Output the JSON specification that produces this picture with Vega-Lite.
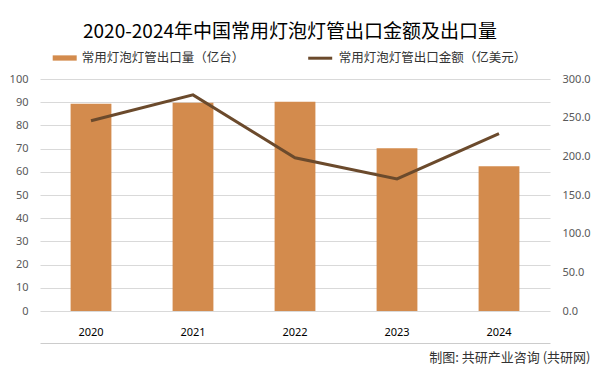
{
  "$schema": "https://vega.github.io/schema/vega-lite/v6.json",
  "width": 510,
  "height": 232,
  "autosize": {"type": "none"},
  "padding": {"left": 40, "top": 79, "right": 50, "bottom": 62},
  "background": "white",
  "config": {
    "font": "Noto Sans CJK SC",
    "view": {"stroke": null},
    "axis": {"labelFont": "Noto Sans", "labelFontSize": 11, "labelColor": "#595959", "ticks": false, "grid": false},
    "axisX": {"domain": true, "domainColor": "#cccccc", "domainWidth": 1}
  },
  "title": {
    "text": "2020-2024年中国常用灯泡灯管出口金额及出口量",
    "fontSize": 19,
    "fontWeight": "normal",
    "color": "#000000",
    "font": "Noto Sans CJK SC",
    "anchor": "middle",
    "offset": 6,
    "dx": -5,
    "dy": 3
  },
  "data": {
    "values": [
      {"year": "2020", "qty": 89.3, "amt": 246.0, "s1": "常用灯泡灯管出口量（亿台）", "s2": "常用灯泡灯管出口金额（亿美元）"},
      {"year": "2021", "qty": 89.8, "amt": 279.5, "s1": "常用灯泡灯管出口量（亿台）", "s2": "常用灯泡灯管出口金额（亿美元）"},
      {"year": "2022", "qty": 90.2, "amt": 198.2, "s1": "常用灯泡灯管出口量（亿台）", "s2": "常用灯泡灯管出口金额（亿美元）"},
      {"year": "2023", "qty": 70.1, "amt": 170.8, "s1": "常用灯泡灯管出口量（亿台）", "s2": "常用灯泡灯管出口金额（亿美元）"},
      {"year": "2024", "qty": 62.4, "amt": 229.5, "s1": "常用灯泡灯管出口量（亿台）", "s2": "常用灯泡灯管出口金额（亿美元）"}
    ]
  },
  "encoding": {
    "x": {
      "field": "year", "type": "nominal",
      "scale": {"paddingInner": 0.6, "paddingOuter": 0.3},
      "axis": {
        "labelAngle": 0, "labelColor": "#000000", "labelPadding": -17, "labelFontSize": 11,
        "offset": 32, "domain": true, "domainColor": "#cccccc", "domainWidth": 1,
        "title": "制图: 共研产业咨询 (共研网)",
        "titleFont": "Noto Sans CJK SC", "titleFontSize": 13, "titleFontWeight": "normal", "titleColor": "#333333",
        "titleAnchor": "end", "titleAlign": "right", "titleBaseline": "middle", "titleX": 550, "titleY": 14
      }
    }
  },
  "layer": [
    {
      "mark": {"type": "bar", "color": "#D38B4D"},
      "encoding": {
        "y": {
          "field": "qty", "type": "quantitative",
          "scale": {"domain": [0, 100], "nice": false},
          "axis": {"title": null, "domain": false, "values": [0,10,20,30,40,50,60,70,80,90,100], "labelOverlap": false, "grid": true, "gridColor": "#d9d9d9", "labelPadding": 12}
        },
        "fill": {
          "field": "s1", "type": "nominal",
          "scale": {"range": ["#D38B4D"]},
          "legend": {"orient": "none", "legendX": 12.7, "legendY": -33, "title": null, "symbolType": "M-1,-0.22H1V0.22H-1Z", "symbolSize": 576, "labelOffset": 5, "labelFontSize": 12.5, "labelLimit": 300, "labelFont": "Noto Sans CJK SC", "labelColor": "#333333", "symbolStrokeWidth": 0}
        }
      }
    },
    {
      "mark": {"type": "line", "strokeWidth": 3},
      "encoding": {
        "y": {
          "field": "amt", "type": "quantitative",
          "scale": {"domain": [0, 300], "nice": false},
          "axis": {"title": null, "domain": false, "orient": "right", "values": [0,50,100,150,200,250,300], "labelOverlap": false, "format": ".1f", "labelPadding": 12}
        },
        "stroke": {
          "field": "s2", "type": "nominal",
          "scale": {"range": ["#6B4A2C"]},
          "legend": {"orient": "none", "legendX": 266.7, "legendY": -34.3, "title": null, "symbolType": "stroke", "symbolSize": 576, "symbolStrokeWidth": 3, "labelOffset": 5, "labelFontSize": 12.5, "labelLimit": 300, "labelFont": "Noto Sans CJK SC", "labelColor": "#333333"}
        }
      }
    }
  ],
  "resolve": {"scale": {"y": "independent", "fill": "independent", "stroke": "independent"}}
}
